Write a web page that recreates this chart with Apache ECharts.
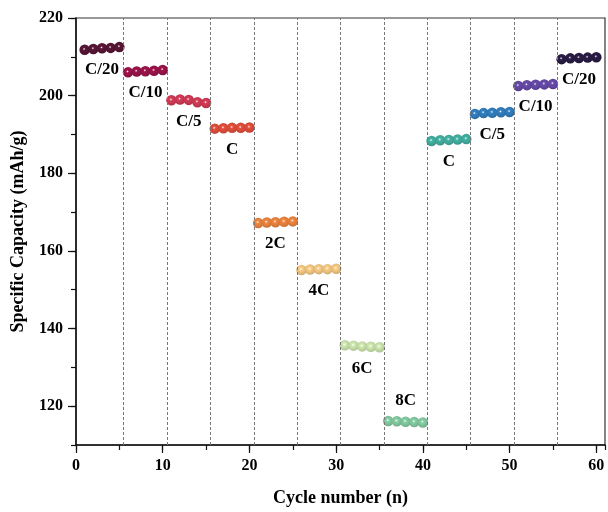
<!DOCTYPE html>
<html>
<head>
<meta charset="utf-8">
<script src="https://cdn.jsdelivr.net/npm/echarts@6/dist/echarts.min.js"></script>
<style>html,body{margin:0;padding:0;background:#fff;}#c{width:608px;height:512px;}</style>
</head>
<body>
<div id="c"></div>
<script>
const rateLabels = ['C/20','C/10','C/5','C','2C','4C','6C','8C','C','C/5','C/10','C/20'];
const cycleStart = [1,6,11,16,21,26,31,36,41,46,51,56];
const cap_C20a = [211.8,212.0,212.2,212.3,212.5];
const cap_C10a = [206.0,206.2,206.3,206.4,206.6];
const cap_C5a  = [198.8,199.0,198.9,198.3,198.1];
const cap_Ca   = [191.5,191.6,191.7,191.7,191.8];
const cap_2C   = [167.2,167.3,167.4,167.5,167.6];
const cap_4C   = [155.1,155.2,155.3,155.3,155.4];
const cap_6C   = [135.7,135.6,135.4,135.3,135.2];
const cap_8C   = [116.2,116.1,116.0,115.9,115.8];
const cap_Cb   = [188.3,188.5,188.6,188.7,188.8];
const cap_C5b  = [195.3,195.5,195.6,195.7,195.8];
const cap_C10b = [202.5,202.7,202.8,202.9,203.0];
const cap_C20b = [209.4,209.6,209.7,209.8,209.9];
const capacities = [cap_C20a,cap_C10a,cap_C5a,cap_Ca,cap_2C,cap_4C,cap_6C,cap_8C,cap_Cb,cap_C5b,cap_C10b,cap_C20b];
const dividers = [5.5,10.5,15.5,20.5,25.5,30.5,35.5,40.5,45.5,50.5,55.5];
const xTicks = [0,10,20,30,40,50,60];
const yTicks = [120,140,160,180,200,220];

const colors = ['#5a1636','#a0144c','#d83c58','#e8503c','#f48842','#fdcf88','#d3ecb2','#88d2a6','#45b5a6','#3482c4','#6a4cad','#2a1c46'];
const labelBelow = [true,true,true,true,true,true,true,false,true,true,true,true];

function shade(hex, f){
  const n = parseInt(hex.slice(1),16);
  let r=(n>>16)&255,g=(n>>8)&255,b=n&255;
  r=Math.round(r*f);g=Math.round(g*f);b=Math.round(b*f);
  return 'rgb('+r+','+g+','+b+')';
}
const font = '"Liberation Serif","Times New Roman",serif';

const series = capacities.map((vals, gi) => ({
  type: 'scatter',
  xAxisIndex: 0, yAxisIndex: 0,
  symbol: 'circle',
  symbolSize: 10.5,
  z: 3,
  itemStyle: {
    opacity: 1,
    color: {type:'radial', x:0.45, y:0.42, r:0.6, colorStops:[
      {offset:0, color:'#ffffff'},
      {offset:0.22, color:colors[gi]},
      {offset:1, color:shade(colors[gi],0.82)}
    ]}
  },
  data: vals.map((v,i) => {
    const d = {value:[cycleStart[gi]+i, v]};
    if (i === 2) {
      d.label = {show:true, formatter: rateLabels[gi], position: labelBelow[gi]?'bottom':'top',
        distance: labelBelow[gi]?8:7, color:'#000', opacity:1, fontFamily:font, fontWeight:'bold', fontSize:17};
    }
    return d;
  })
}));
series.push({
  type:'line', data:[], xAxisIndex:0, yAxisIndex:0,
  markLine:{silent:true, symbol:['none','none'], label:{show:false},
    lineStyle:{type:[3,2], color:'#777', width:1},
    data: dividers.map(x => ({xAxis:x}))}
});

const chart = echarts.init(document.getElementById('c'));
chart.setOption({
  animation:false,
  grid:{left:76, right:3, top:18, bottom:67, show:true, borderColor:'#333', borderWidth:1.2},
  xAxis:[{
    type:'value', min:0, max:61, interval:5,
    name:'Cycle number (n)', nameLocation:'middle', nameGap:44,
    nameTextStyle:{fontFamily:font, fontWeight:'bold', fontSize:18, color:'#000'},
    axisLine:{show:true, onZero:false, lineStyle:{color:'#111', width:1.5}},
    axisTick:{show:true, length:5, lineStyle:{color:'#111', width:1.2}},
    axisLabel:{show:false},
    splitLine:{show:false}
  },{
    type:'value', min:0, max:61, position:'bottom',
    axisLine:{show:false},
    axisTick:{show:true, length:8, customValues:xTicks, lineStyle:{color:'#111', width:1.2}},
    axisLabel:{show:true, customValues:xTicks, margin:13, fontFamily:font, fontWeight:'bold', fontSize:16, color:'#000'},
    splitLine:{show:false}
  }],
  yAxis:[{
    type:'value', min:110, max:220, interval:10,
    name:'Specific Capacity (mAh/g)', nameLocation:'middle', nameGap:49,
    nameTextStyle:{fontFamily:font, fontWeight:'bold', fontSize:18, color:'#000'},
    axisLine:{show:true, onZero:false, lineStyle:{color:'#111', width:1.5}},
    axisTick:{show:true, length:5, lineStyle:{color:'#111', width:1.2}},
    axisLabel:{show:false},
    splitLine:{show:false}
  },{
    type:'value', min:110, max:220, position:'left',
    axisLine:{show:false},
    axisTick:{show:true, length:8, customValues:yTicks, lineStyle:{color:'#111', width:1.2}},
    axisLabel:{show:true, customValues:yTicks, margin:13, fontFamily:font, fontWeight:'bold', fontSize:16, color:'#000'},
    splitLine:{show:false}
  }],
  series: series
});
</script>
</body>
</html>
